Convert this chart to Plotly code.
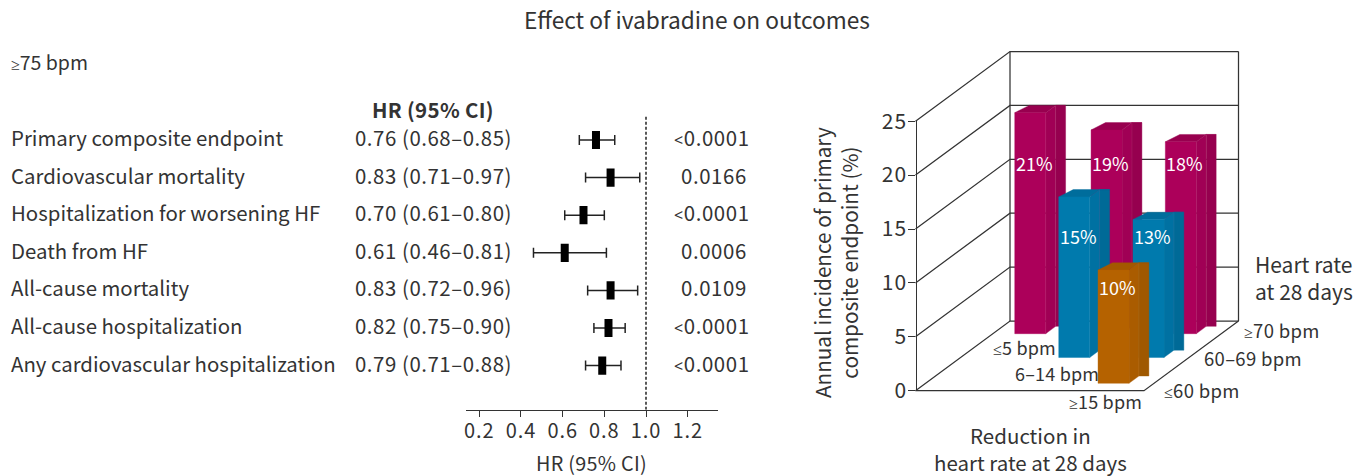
import re
import plotly.graph_objects as go

# ---------- data ----------
outcomes = ["Primary composite endpoint", "Cardiovascular mortality", "Hospitalization for worsening HF",
            "Death from HF", "All-cause mortality", "All-cause hospitalization",
            "Any cardiovascular hospitalization"]
hr = [0.76, 0.83, 0.70, 0.61, 0.83, 0.82, 0.79]
ci_low = [0.68, 0.71, 0.61, 0.46, 0.72, 0.75, 0.71]
ci_high = [0.85, 0.97, 0.80, 0.81, 0.96, 0.90, 0.88]
p_values = ["<0.0001", "0.0166", "<0.0001", "0.0006", "0.0109", "<0.0001", "<0.0001"]
hr_ticks = [0.2, 0.4, 0.6, 0.8, 1.0, 1.2]

reduction_cats = ["≤5 bpm", "6–14 bpm", "≥15 bpm"]
heart_rate_cats = ["≤60 bpm", "60–69 bpm", "≥70 bpm"]
# (reduction index, heart-rate index, drawn height, printed label)
bar_reduction = [0, 1, 2, 1, 2, 2]
bar_heart_rate = [2, 2, 2, 1, 1, 0]
bar_heights = [20.5, 18.9, 17.8, 14.9, 12.8, 10.5]
bar_labels = ["21%", "19%", "18%", "15%", "13%", "10%"]
incidence_ticks = [0, 5, 10, 15, 20, 25]

# ---------- layout constants ----------
W, H = 1368, 476
FONT = "Noto Sans CJK KR"
TXT = "#333333"
BIG = 20.4
TEXT_DY = -2      # glyph centre correction
TEXT_DX = -1.2


def fx(x):
    return x / W


def fy(y):
    return 1 - y / H


def small_sign(s):
    return re.sub("[≤≥<]", lambda m: f"<span style=\"font-family:'Noto Sans';font-size:16px\">{m.group(0)}</span>", s)


def spaced(s, em=0.6):
    return f'<span style="letter-spacing:{em}px">{s}</span>'


# oblique projection of the 3-D box onto the canvas
O_X, O_Y = 915.5, 390.7     # front-left floor corner
BOX_W = 228.5
DEPTH_X, DEPTH_Y = 94.5, -69.7
UNIT = 10.78
ZMAX = 25
COL_POS = [0.096, 0.43, 0.755]
ROW_POS = [0.106, 0.476, 0.818]
BAR_W = 0.1357
BAR_D = 0.105
LABEL_Z = {0: 8.8, 1: 11.2, 2: 15.7}


def project(a, d, z):
    return O_X + a * BOX_W + d * DEPTH_X, O_Y + d * DEPTH_Y - z * UNIT


fig = go.Figure()

# ---------- forest plot ----------
X_PER_UNIT = (646 - 479.3) / 0.8
AX_L, AX_R = 466, 717.7
x_range = [1.0 + (AX_L - 646) / X_PER_UNIT, 1.0 + (AX_R - 646) / X_PER_UNIT]
ROW0, ROW_STEP = 140, 37.6
AX_Y, TOP_Y = 409.7, 115
y_range = [(AX_Y - ROW0) / ROW_STEP, (TOP_Y - ROW0) / ROW_STEP]
rows = list(range(len(outcomes)))

fig.add_trace(go.Scatter(x=[1.0, 1.0], y=y_range, mode="lines",
                         line=dict(color="#222222", width=1.5, dash="3px,2px"),
                         hoverinfo="skip", showlegend=False))
fig.add_trace(go.Scatter(
    x=hr, y=rows, mode="markers",
    marker=dict(symbol="line-ns", size=13, color="black", line=dict(width=8, color="black")),
    error_x=dict(type="data", symmetric=False,
                 array=[h - e for h, e in zip(ci_high, hr)],
                 arrayminus=[e - l for e, l in zip(hr, ci_low)],
                 color="#222222", thickness=1.5, width=5),
    showlegend=False, hoverinfo="skip"))

# ---------- 3-D bars ----------
PALETTE = {
    2: dict(front="#AC005A", side="#A00055", back="#96004F", top="#98004F", seam="#AC2A68"),
    1: dict(front="#007AAD", side="#0071A2", back="#006A97", top="#006D9C", seam="#1E84AE"),
    0: dict(front="#B56200", side="#AA5C00", back="#9F5800", top="#A35800", seam="#B87020"),
}


def poly(pts, color, seam=None):
    xs = [p[0] for p in pts] + [pts[0][0]]
    ys = [p[1] for p in pts] + [pts[0][1]]
    fig.add_trace(go.Scatter(x=xs, y=ys, xaxis="x2", yaxis="y2", mode="lines", fill="toself",
                             fillcolor=color, line=dict(color=seam or color, width=0.4),
                             hoverinfo="skip", showlegend=False))


def seg(x, y, color="#333333", width=1.25):
    fig.add_trace(go.Scatter(x=x, y=y, xaxis="x2", yaxis="y2", mode="lines",
                             line=dict(color=color, width=width),
                             hoverinfo="skip", showlegend=False))


# walls and floor
gx, gy = [], []
for z in incidence_ticks:
    p0, p1, p2 = project(0, 0, z), project(0, 1, z), project(1, 1, z)
    gx += [p0[0], p1[0], p2[0], None]
    gy += [p0[1], p1[1], p2[1], None]
for a, d in [(0, 1), (1, 1)]:
    p0, p1 = project(a, d, 0), project(a, d, ZMAX)
    gx += [p0[0], p1[0], None]
    gy += [p0[1], p1[1], None]
p0, p1, p2 = project(0, 0, 0), project(1, 0, 0), project(1, 1, 0)
gx += [p0[0], p1[0], p2[0]]
gy += [p0[1], p1[1], p2[1]]
seg(gx, gy)

order = sorted(range(len(bar_heights)), key=lambda i: -bar_heart_rate[i])
for i in order:
    c, r, h = bar_reduction[i], bar_heart_rate[i], bar_heights[i]
    a, d = COL_POS[c], ROW_POS[r]
    pal = PALETTE[r]
    fl_b, fr_b = project(a, d, 0), project(a + BAR_W, d, 0)
    fl_t, fr_t = project(a, d, h), project(a + BAR_W, d, h)
    m_b, m_t = project(a + BAR_W, d + BAR_D, 0), project(a + BAR_W, d + BAR_D, h)
    step = m_t[0] - fr_t[0]
    r_b, r_t = (m_b[0] + step, m_b[1]), (m_t[0] + step, m_t[1])
    poly([m_b, r_b, r_t, m_t], pal["back"])
    poly([fr_b, m_b, m_t, fr_t], pal["side"], pal["seam"])
    poly([fl_t, (fl_t[0] + 14.5, m_t[1]), r_t, m_t, fr_t], pal["top"])
    poly([fl_b, fr_b, fr_t, fl_t], pal["front"])

# axis for the incidence scale
fig.add_trace(go.Scatter(x=[None], y=[None], xaxis="x2", yaxis="y3", showlegend=False, hoverinfo="skip"))

# ---------- text ----------
ann = []


def text(x, y, s, size=BIG, color=TXT, anchor="left", **kw):
    ann.append(dict(x=fx(x + (TEXT_DX if anchor == "left" else 0)), y=fy(y + TEXT_DY), xref="paper", yref="paper",
                    text=s, showarrow=False, xanchor=anchor, yanchor="middle", borderpad=0,
                    font=dict(family=FONT, size=size, color=color), **kw))


text(697.5, 22, "Effect of ivabradine on outcomes", size=22.7, anchor="center")
text(11, 64, small_sign("≥75 bpm"), size=19.5)
text(433, 111, spaced("<b>HR (95% CI)</b>", 0.3), size=20.5, anchor="center")
for i, name in enumerate(outcomes):
    yy = ROW0 - 1 + ROW_STEP * i
    text(11, yy, name)
    text(355, yy, spaced(f"{hr[i]:.2f} ({ci_low[i]:.2f}–{ci_high[i]:.2f})", 0.55))
    text(674 if p_values[i].startswith("<") else 681, yy, spaced(small_sign(p_values[i]), 0.6))
text(591.5, 464, spaced("HR (95% CI)", 0.3), size=19.8, anchor="center")

text(835, 265, "Annual incidence of primary<br>composite endpoint (%)", size=20.7, anchor="center",
     textangle=-90, align="center")
text(1255, 279.5, "Heart rate<br>at 28 days", size=21, align="left")
for lab, x, y in zip(heart_rate_cats, [1164, 1204, 1244], [392, 360, 332]):
    text(x, y, spaced(small_sign(lab), 0.3), size=18.5)
for lab, x, y in zip(reduction_cats, [993, 1015, 1069], [349, 375, 403]):
    text(x, y, spaced(small_sign(lab), 0.2), size=18)
text(1030, 450.5, "Reduction in<br>heart rate at 28 days", size=20.5, anchor="center", align="center")

for i, lab in enumerate(bar_labels):
    r = bar_heart_rate[i]
    p = project(COL_POS[bar_reduction[i]] + BAR_W / 2, ROW_POS[r], LABEL_Z[r])
    text(p[0] + 4, p[1] + 1, lab, size=18, color="white", anchor="center")

# ---------- layout ----------
fig.update_layout(
    width=W, height=H, margin=dict(l=0, r=0, t=0, b=0),
    paper_bgcolor="white", plot_bgcolor="rgba(0,0,0,0)", showlegend=False,
    annotations=ann,
    xaxis=dict(domain=[fx(AX_L), fx(AX_R)], range=x_range, tickvals=hr_ticks,
               ticktext=[spaced(f"{t:.1f}", 0.9) for t in hr_ticks], ticks="outside", ticklen=6, tickwidth=1.2,
               ticklabelstandoff=-3,
               tickcolor="#333333", showline=True, linecolor="#333333", linewidth=1.4, showgrid=False,
               zeroline=False, tickfont=dict(family=FONT, size=20, color=TXT), anchor="y", automargin=False),
    yaxis=dict(domain=[fy(AX_Y), fy(TOP_Y)], range=y_range, visible=False, anchor="x", automargin=False),
    xaxis2=dict(domain=[0, 1], range=[0, W], visible=False, anchor="y2", automargin=False),
    yaxis2=dict(domain=[0, 1], range=[H, 0], visible=False, anchor="x2", automargin=False),
    yaxis3=dict(domain=[fy(O_Y), fy(O_Y - ZMAX * UNIT)], range=[0, ZMAX], anchor="free", automargin=False,
                position=fx(O_X), tickvals=incidence_ticks,
                ticktext=[spaced(str(t), 1.0) for t in incidence_ticks], ticks="outside", ticklen=7, tickwidth=1.2,
                ticklabelstandoff=-3,
                tickcolor="#333333", showline=True, linecolor="#333333", linewidth=1.25, showgrid=False,
                zeroline=False, tickfont=dict(family=FONT, size=21, color=TXT)),
)

fig.write_html("out.html", config=dict(displayModeBar=False),
               post_script="document.body.style.margin='0';document.body.style.overflow='hidden';")
